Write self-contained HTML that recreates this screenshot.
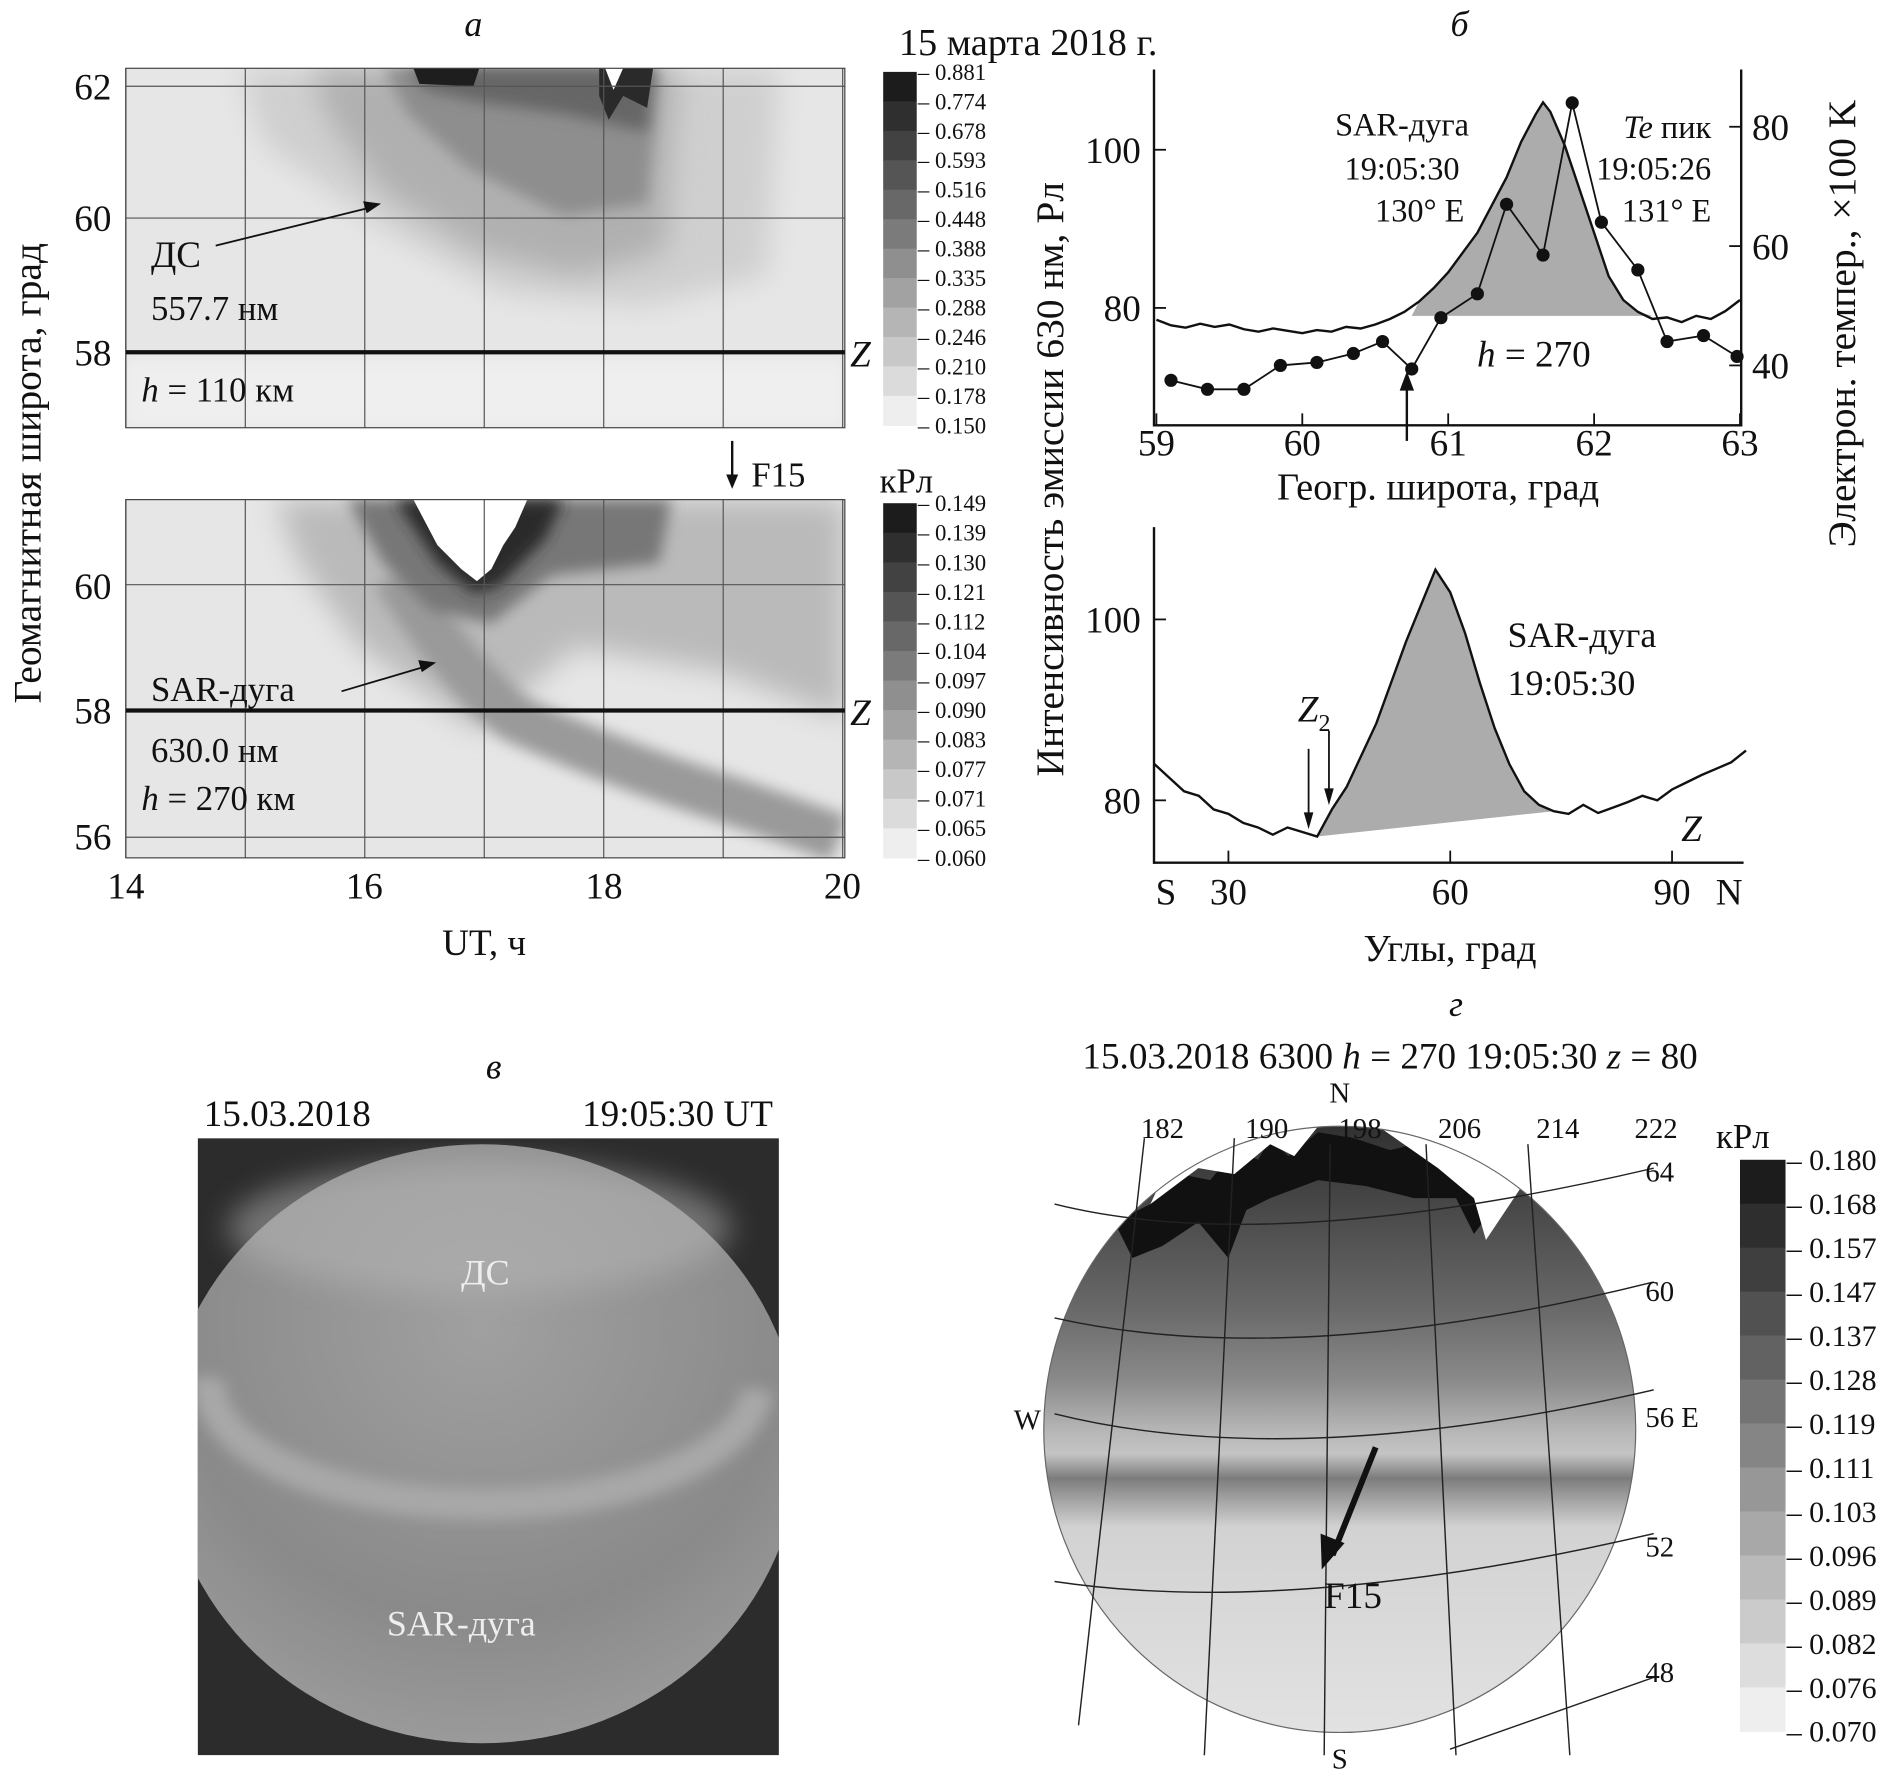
<!DOCTYPE html>
<html><head><meta charset="utf-8"><style>
html,body{margin:0;padding:0;background:#fff}
svg{display:block}
text{font-family:"Liberation Serif",serif;fill:#111}
</style></head><body>
<svg id="fig" width="1879" height="1772" viewBox="0 0 1568 1479" preserveAspectRatio="none" xmlns="http://www.w3.org/2000/svg">
<defs>
<filter id="b6" x="-20%" y="-20%" width="140%" height="140%"><feGaussianBlur stdDeviation="6"/></filter>
<filter id="b12" x="-30%" y="-30%" width="160%" height="160%"><feGaussianBlur stdDeviation="12"/></filter>
<clipPath id="clipA1"><rect x="105" y="57" width="600" height="300"/></clipPath>
<clipPath id="clipA2"><rect x="105" y="417" width="600" height="299"/></clipPath>
<clipPath id="clipV"><rect x="165" y="950" width="485" height="515"/></clipPath>
<clipPath id="clipG"><ellipse cx="1118" cy="1193" rx="247" ry="253"/></clipPath>
<linearGradient id="gG" x1="0" y1="0" x2="0" y2="1">
<stop offset="0" stop-color="#303030"/><stop offset="0.12" stop-color="#454545"/><stop offset="0.3" stop-color="#686868"/>
<stop offset="0.42" stop-color="#8a8a8a"/><stop offset="0.5" stop-color="#b5b5b5"/><stop offset="0.54" stop-color="#c4c4c4"/>
<stop offset="0.58" stop-color="#7c7c7c"/><stop offset="0.62" stop-color="#a8a8a8"/><stop offset="0.66" stop-color="#d2d2d2"/>
<stop offset="1" stop-color="#e2e2e2"/></linearGradient>
<radialGradient id="gV" cx="0.5" cy="0.3" r="0.7"><stop offset="0" stop-color="#a0a0a0"/><stop offset="0.7" stop-color="#8a8a8a"/><stop offset="1" stop-color="#9a9a9a"/></radialGradient>
</defs>

<!-- PANEL A -->
<text x="395" y="30" font-size="30" font-style="italic" text-anchor="middle">а</text>
<text x="858" y="46" font-size="32" text-anchor="middle">15 марта 2018 г.</text>
<g clip-path="url(#clipA1)">
<rect x="105" y="57" width="600" height="300" fill="#e6e6e6"/>
<rect x="105" y="300" width="600" height="57" fill="#efefef" filter="url(#b6)"/>
<polygon points="200,57 650,57 640,230 540,255 420,245 320,190 220,120" fill="#cfcfcf" filter="url(#b12)"/>
<polygon points="260,57 565,57 555,210 480,230 400,210 320,160 275,100" fill="#b0b0b0" filter="url(#b12)"/>
<polygon points="320,57 550,57 540,170 470,180 390,140 340,95" fill="#8e8e8e" filter="url(#b6)"/>
<polygon points="340,57 545,57 540,110 470,95 400,85 355,75" fill="#666" filter="url(#b6)"/>
<polygon points="345,57 400,57 395,72 350,70" fill="#1e1e1e"/>
<polygon points="500,57 545,57 540,90 520,80 508,100 500,80" fill="#2a2a2a"/>
<polygon points="505,57 520,57 512,75" fill="#fff"/>
</g>
<g clip-path="url(#clipA2)">
<rect x="105" y="417" width="600" height="299" fill="#e6e6e6"/>
<polygon points="230,417 705,417 705,600 600,560 480,540 400,610 300,540 250,470" fill="#bababa" filter="url(#b12)"/>
<path d="M330,480 Q380,560 430,600 Q520,640 600,665 Q660,685 700,700" stroke="#9a9a9a" stroke-width="40" fill="none" filter="url(#b6)"/>
<polygon points="290,417 560,417 550,470 460,480 410,520 360,510 320,470" fill="#777" filter="url(#b6)"/>
<polygon points="330,417 470,417 455,450 415,490 395,495 365,470 345,440" fill="#2a2a2a" filter="url(#b6)"/>
<polygon points="345,417 440,417 430,440 420,455 410,475 398,485 385,475 365,455" fill="#fff"/>
</g>
<g id="gridA" stroke="#555" stroke-width="1" fill="none"></g>
<rect x="105" y="57" width="600" height="300" fill="none" stroke="#444"/>
<rect x="105" y="417" width="600" height="299" fill="none" stroke="#444"/>
<line x1="105" y1="294" x2="705" y2="294" stroke="#111" stroke-width="3.5"/>
<line x1="105" y1="593" x2="705" y2="593" stroke="#111" stroke-width="3.5"/>
<text x="718" y="306" font-size="31" font-style="italic" text-anchor="middle">Z</text>
<text x="718" y="605" font-size="31" font-style="italic" text-anchor="middle">Z</text>
<g font-size="31" text-anchor="end">
<text x="93" y="83">62</text><text x="93" y="193">60</text><text x="93" y="305">58</text>
<text x="93" y="500">60</text><text x="93" y="604">58</text><text x="93" y="709">56</text></g>
<g font-size="31" text-anchor="middle">
<text x="105" y="750">14</text><text x="304" y="750">16</text><text x="504" y="750">18</text><text x="703" y="750">20</text></g>
<text x="404" y="797" font-size="31" text-anchor="middle">UT, ч</text>
<text transform="translate(34,395) rotate(-90)" font-size="33" text-anchor="middle">Геомагнитная широта, град</text>
<text x="126" y="223" font-size="31">ДС</text>
<line x1="180" y1="205" x2="310" y2="173" stroke="#111" stroke-width="1.5"/>
<polygon points="318,170 303,168 306,178" fill="#111"/>
<text x="126" y="267" font-size="29">557.7 нм</text>
<text x="118" y="335" font-size="29"><tspan font-style="italic">h</tspan> = 110 км</text>
<text x="126" y="585" font-size="29">SAR-дуга</text>
<line x1="285" y1="577" x2="356" y2="556" stroke="#111" stroke-width="1.5"/>
<polygon points="364,553 349,551 352,561" fill="#111"/>
<text x="126" y="636" font-size="29">630.0 нм</text>
<text x="118" y="676" font-size="29"><tspan font-style="italic">h</tspan> = 270 км</text>
<line x1="611" y1="368" x2="611" y2="400" stroke="#111" stroke-width="2"/>
<polygon points="606,396 616,396 611,408" fill="#111"/>
<text x="627" y="406" font-size="29">F15</text>
<text x="734" y="411" font-size="29">кРл</text>
<g id="cbarA1"></g>
<g id="cbarA2"></g>

<!-- PANEL B -->
<text x="1218" y="30" font-size="30" font-style="italic" text-anchor="middle">б</text>
<g id="chartB1"></g>
<g id="chartB2"></g>
<text transform="translate(887,400) rotate(-90)" font-size="33" text-anchor="middle">Интенсивность эмиссии 630 нм, Рл</text>
<text transform="translate(1548,270) rotate(-90)" font-size="33" text-anchor="middle">Электрон. темпер., ×100 K</text>

<!-- PANEL V -->
<text x="412" y="900" font-size="30" font-style="italic" text-anchor="middle">в</text>
<text x="170" y="940" font-size="31">15.03.2018</text>
<text x="645" y="940" font-size="31" text-anchor="end">19:05:30 UT</text>
<g clip-path="url(#clipV)">
<rect x="165" y="950" width="485" height="515" fill="#2c2c2c"/>
<ellipse cx="402" cy="1205" rx="265" ry="250" fill="url(#gV)"/>
<ellipse cx="400" cy="1025" rx="210" ry="55" fill="#b8b8b8" opacity="0.5" filter="url(#b12)"/>
<path d="M175,1150 A228,100 0 0 0 632,1160" stroke="#a8a8a8" stroke-width="26" fill="none" filter="url(#b6)"/>
</g>
<text x="405" y="1072" font-size="30" text-anchor="middle" style="fill:#eee">ДС</text>
<text x="385" y="1365" font-size="30" text-anchor="middle" style="fill:#eee">SAR-дуга</text>

<!-- PANEL G -->
<text x="1215" y="848" font-size="30" font-style="italic" text-anchor="middle">г</text>
<text x="1160" y="892" font-size="31" text-anchor="middle">15.03.2018 6300 <tspan font-style="italic">h</tspan> = 270 19:05:30 <tspan font-style="italic">z</tspan> = 80</text>
<g clip-path="url(#clipG)">
<rect x="870" y="938" width="500" height="510" fill="url(#gG)"/>
<polygon points="930,1020 960,1005 985,980 1010,985 1030,960 1050,968 1060,950 1075,965 1100,945 1130,950 1160,960 1180,955 1210,965 1240,975 1260,990 1230,1030 1215,1000 1180,1000 1140,990 1100,985 1060,1000 1040,1010 1025,1050 1000,1020 970,1040 945,1050" fill="#111"/>
<polygon points="990,940 1100,940 1080,965 1060,955 1030,980 1000,975 960,1005" fill="#fff"/>
<polygon points="1150,940 1290,940 1270,990 1240,1035 1230,1000 1200,975" fill="#fff"/>
</g>
<ellipse cx="1118" cy="1193" rx="247" ry="253" fill="none" stroke="#666" stroke-width="1"/>
<g stroke="#222" stroke-width="1.2" fill="none">
<line x1="955" y1="950" x2="900" y2="1440"/><line x1="1030" y1="950" x2="1005" y2="1465"/>
<line x1="1110" y1="955" x2="1105" y2="1465"/><line x1="1190" y1="955" x2="1215" y2="1465"/>
<line x1="1275" y1="955" x2="1310" y2="1465"/>
<path d="M880,1005 Q1060,1050 1380,975"/><path d="M880,1100 Q1080,1145 1380,1070"/>
<path d="M880,1180 Q1080,1230 1380,1160"/><path d="M880,1320 Q1080,1350 1380,1280"/>
<path d="M1210,1460 L1380,1400"/></g>
<line x1="1148" y1="1208" x2="1112" y2="1298" stroke="#111" stroke-width="5"/>
<polygon points="1103,1310 1102,1280 1122,1288" fill="#111"/>
<text x="1105" y="1342" font-size="31">F15</text>
<g font-size="24" text-anchor="middle">
<text x="970" y="950">182</text><text x="1057" y="950">190</text><text x="1135" y="950">198</text>
<text x="1218" y="950">206</text><text x="1300" y="950">214</text><text x="1382" y="950">222</text></g>
<g font-size="24">
<text x="1373" y="986">64</text><text x="1373" y="1086">60</text><text x="1373" y="1191">56 E</text>
<text x="1373" y="1299">52</text><text x="1373" y="1404">48</text></g>
<text x="1118" y="920" font-size="24" text-anchor="middle">N</text>
<text x="1118" y="1476" font-size="24" text-anchor="middle">S</text>
<text x="846" y="1193" font-size="24">W</text>
<text x="1432" y="958" font-size="29">кРл</text>
<g id="cbarG"></g>
</svg>
<script>
const NS="http://www.w3.org/2000/svg";
function mk(parent,tag,attrs){const e=document.createElementNS(NS,tag);for(const k in attrs)e.setAttribute(k,attrs[k]);parent.appendChild(e);return e;}

// Panel а grid
const utTicks=[14,15,16,17,18,19,20];
const latTopGrid=[62,60];
const latBotGrid=[60,58,56];
const gA=document.getElementById('gridA');
const xUT=v=>105+(v-14)*99.7;
const yA1=v=>72+(62-v)*55;
const yA2=v=>488+(60-v)*52.7;
utTicks.forEach(t=>{
 const l1=mk(gA,'line',{x1:xUT(t),x2:xUT(t),y1:57,y2:357});
 
 
 const l2=mk(gA,'line',{x1:xUT(t),x2:xUT(t),y1:417,y2:716});
 
 
});
latTopGrid.forEach(v=>{const l=mk(gA,'line',{x1:105,x2:705,y1:yA1(v),y2:yA1(v)});
 
 });
latBotGrid.forEach(v=>{const l=mk(gA,'line',{x1:105,x2:705,y1:yA2(v),y2:yA2(v)});
 
 });

// Colorbars
const cbar557Labels=["0.881","0.774","0.678","0.593","0.516","0.448","0.388","0.335","0.288","0.246","0.210","0.178","0.150"];
const cbar630Labels=["0.149","0.139","0.130","0.121","0.112","0.104","0.097","0.090","0.083","0.077","0.071","0.065","0.060"];
const cbarMapLabels=["0.180","0.168","0.157","0.147","0.137","0.128","0.119","0.111","0.103","0.096","0.089","0.082","0.076","0.070"];
function cbar(id,labels,x,w,y0,y1,fs){
 const g=document.getElementById(id);const n=labels.length-1;const h=(y1-y0)/n;
 for(let i=0;i<n;i++){const c=Math.round(28+i*(238-28)/(n-1));
  const r=mk(g,'rect',{x:x,y:y0+i*h,width:w,height:h+0.5,fill:`rgb(${c},${c},${c})`});
  
  }
 labels.forEach((t,i)=>{const te=mk(g,'text',{x:x+w+1,y:y0+i*h+fs*0.35,'font-size':fs});te.textContent='– '+t;
  
  });
}
cbar('cbarA1',cbar557Labels,737,28,60,355,19);
cbar('cbarA2',cbar630Labels,737,28,420,716,19);
cbar('cbarG',cbarMapLabels,1452,38,968,1445,25);

// Panel б top
const latProfile=[59,59.1,59.2,59.3,59.4,59.5,59.6,59.7,59.8,59.9,60,60.1,60.2,60.3,60.4,60.5,60.6,60.7,60.8,60.9,61,61.1,61.2,61.3,61.4,61.5,61.6,61.65,61.7,61.8,61.9,62,62.1,62.2,62.3,62.4,62.5,62.6,62.7,62.8,62.9,63];
const intensityLat=[78.5,77.8,77.5,78,77.6,77.9,77.3,77,77.4,77.1,76.8,77.2,77,77.6,77.4,77.9,78.6,79.5,80.8,82.5,84.5,87,89.5,93,96.5,101,104.5,106,104.8,100.5,95,89.5,84,81,79.5,78.6,78.8,78.2,79,78.6,79.6,81];
const teLat=[59.1,59.35,59.6,59.85,60.1,60.35,60.55,60.75,60.95,61.2,61.4,61.65,61.85,62.05,62.3,62.5,62.75,62.98];
const teVal=[37.5,36,36,40,40.5,42,44,39.4,48,52,67,58.5,84,64,56,44,45,41.5];
const c1=document.getElementById('chartB1');
const xB1=v=>965+(v-59)*121.75;
const yB1=v=>257-(v-80)*6.6;
const yB1r=v=>305-(v-40)*4.98;
(function(){
 let pts=[];const base=79;
 latProfile.forEach((v,i)=>{if(v>=60.75&&v<=62.45)pts.push(xB1(v)+','+yB1(Math.max(intensityLat[i],base)));});
 pts.push(xB1(62.45)+','+yB1(base));pts.push(xB1(60.75)+','+yB1(base));
 const p=mk(c1,'polygon',{points:pts.join(' '),fill:'#acacac'});
 
 
})();
const lineI=mk(c1,'polyline',{points:latProfile.map((v,i)=>xB1(v)+','+yB1(intensityLat[i])).join(' '),fill:'none',stroke:'#111','stroke-width':2});


const lineT=mk(c1,'polyline',{points:teLat.map((v,i)=>xB1(v)+','+yB1r(teVal[i])).join(' '),fill:'none',stroke:'#111','stroke-width':1.5});


teLat.forEach((v,i)=>{const c=mk(c1,'circle',{cx:xB1(v),cy:yB1r(teVal[i]),r:5.5,fill:'#111'});
 
 });
const latTicks=[59,60,61,62,63];
const intTicksLat=[80,100];
const teTicks=[40,60,80];
mk(c1,'line',{x1:963,x2:963,y1:58,y2:356,stroke:'#111','stroke-width':2});
mk(c1,'line',{x1:1453,x2:1453,y1:58,y2:356,stroke:'#111','stroke-width':2});
mk(c1,'line',{x1:963,x2:1453,y1:355,y2:355,stroke:'#111','stroke-width':2});
latTicks.forEach(t=>{mk(c1,'line',{x1:xB1(t),x2:xB1(t),y1:345,y2:355,stroke:'#111','stroke-width':1.5});
 const te=mk(c1,'text',{x:xB1(t),y:380,'font-size':31,'text-anchor':'middle'});te.textContent=t;
 
 });
intTicksLat.forEach(t=>{mk(c1,'line',{x1:963,x2:973,y1:yB1(t),y2:yB1(t),stroke:'#111','stroke-width':1.5});
 const te=mk(c1,'text',{x:952,y:yB1(t)+11,'font-size':31,'text-anchor':'end'});te.textContent=t;
 
 });
teTicks.forEach(t=>{mk(c1,'line',{x1:1443,x2:1453,y1:yB1r(t),y2:yB1r(t),stroke:'#111','stroke-width':1.5});
 const te=mk(c1,'text',{x:1462,y:yB1r(t)+11,'font-size':31});te.textContent=t;
 
 });
[['SAR-дуга',1170,113],['19:05:30',1170,150],['130° E',1222,185]].forEach((a,i)=>{const te=mk(c1,'text',{x:a[1],y:a[2],'font-size':27,'text-anchor':i==2?'end':'middle'});te.textContent=a[0];
 
 });
[['19:05:26',1428,150],['131° E',1428,185]].forEach(a=>{const te=mk(c1,'text',{x:a[1],y:a[2],'font-size':27,'text-anchor':'end'});te.textContent=a[0];
 
 });
(function(){const te=mk(c1,'text',{x:1428,y:115,'font-size':27,'text-anchor':'end'});te.innerHTML='<tspan font-style="italic">Te</tspan> пик';
 
 
 const h=mk(c1,'text',{x:1280,y:306,'font-size':31,'text-anchor':'middle'});h.innerHTML='<tspan font-style="italic">h</tspan> = 270';
 
 
 mk(c1,'line',{x1:1174,x2:1174,y1:368,y2:322,stroke:'#111','stroke-width':2});
 mk(c1,'polygon',{points:'1168,326 1180,326 1174,310',fill:'#111'});
 const xl=mk(c1,'text',{x:1200,y:417,'font-size':32,'text-anchor':'middle'});xl.textContent='Геогр. широта, град';
 
 })();

// Panel б bottom
const angles=[20,22,24,26,28,30,32,34,36,38,40,42,44,46,48,50,52,54,56,58,60,62,64,66,68,70,72,74,76,78,80,82,84,86,88,90,92,94,96,98,100];
const intensityAng=[84,82.5,81,80.5,79,78.5,77.5,77,76.2,77,76.5,76,79,81.5,85,88.5,93,97.5,101.5,105.5,103,98.5,93,88,84,81,79.5,78.8,78.5,79.5,78.6,79.2,79.8,80.5,80,81.2,82,82.8,83.5,84.2,85.5];
const c2=document.getElementById('chartB2');
const xB2=v=>840+v*6.17;
const yB2=v=>668-(v-80)*7.55;
(function(){let pts=[];
 angles.forEach((a,i)=>{if(a>=42&&a<=74)pts.push(xB2(a)+','+yB2(intensityAng[i]));});
 pts.push(xB2(74)+','+yB2(78.8));pts.push(xB2(42)+','+yB2(76));
 const p=mk(c2,'polygon',{points:pts.join(' '),fill:'#acacac'});
 
 })();
const lineA=mk(c2,'polyline',{points:angles.map((a,i)=>xB2(a)+','+yB2(intensityAng[i])).join(' '),fill:'none',stroke:'#111','stroke-width':2});


mk(c2,'line',{x1:963,x2:963,y1:440,y2:721,stroke:'#111','stroke-width':2});
mk(c2,'line',{x1:963,x2:1455,y1:720,y2:720,stroke:'#111','stroke-width':2});
const angTicks=[30,60,90];
const intTicksAng=[80,100];
angTicks.forEach(t=>{mk(c2,'line',{x1:xB2(t),x2:xB2(t),y1:710,y2:720,stroke:'#111','stroke-width':1.5});
 const te=mk(c2,'text',{x:xB2(t),y:755,'font-size':31,'text-anchor':'middle'});te.textContent=t;
 
 });
intTicksAng.forEach(t=>{mk(c2,'line',{x1:963,x2:973,y1:yB2(t),y2:yB2(t),stroke:'#111','stroke-width':1.5});
 const te=mk(c2,'text',{x:952,y:yB2(t)+11,'font-size':31,'text-anchor':'end'});te.textContent=t;
 
 });
(function(){
 const s=mk(c2,'text',{x:973,y:755,'font-size':31,'text-anchor':'middle'});s.textContent='S';
 
 const n=mk(c2,'text',{x:1443,y:755,'font-size':31,'text-anchor':'middle'});n.textContent='N';
 
 const a=mk(c2,'text',{x:1258,y:540,'font-size':30,'text-anchor':'start','dx':0});a.textContent='SAR-дуга';a.setAttribute('x',1258);
 
 const b=mk(c2,'text',{x:1258,y:580,'font-size':30});b.textContent='19:05:30';
 
 const z2=mk(c2,'text',{x:1083,y:602,'font-size':31,'font-style':'italic'});z2.innerHTML='Z<tspan font-size="20" dy="8" font-style="normal">2</tspan>';
 
 const z=mk(c2,'text',{x:1403,y:702,'font-size':31,'font-style':'italic'});z.textContent='Z';
 
 mk(c2,'line',{x1:1092,x2:1092,y1:625,y2:680,stroke:'#111','stroke-width':1.5});
 mk(c2,'polygon',{points:'1088,678 1096,678 1092,692',fill:'#111'});
 mk(c2,'line',{x1:1109,x2:1109,y1:610,y2:660,stroke:'#111','stroke-width':1.5});
 mk(c2,'polygon',{points:'1105,658 1113,658 1109,672',fill:'#111'});
 const xl=mk(c2,'text',{x:1210,y:802,'font-size':32,'text-anchor':'middle'});xl.textContent='Углы, град';
 
})();
</script>
</body></html>
